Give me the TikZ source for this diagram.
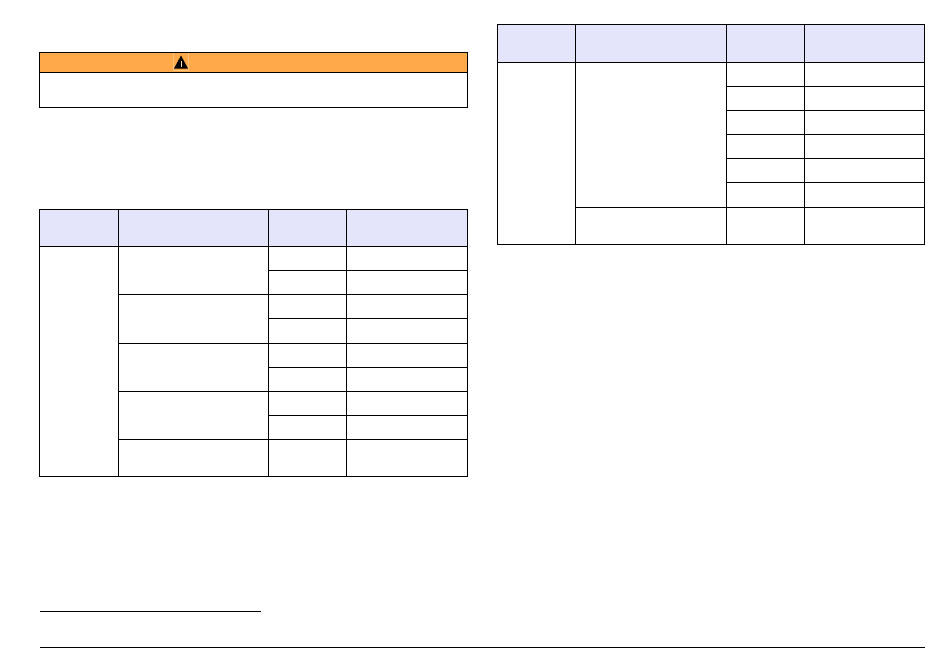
\documentclass[tikz,border=0pt]{standalone}
\definecolor{warnorange}{RGB}{255, 169, 74}
\definecolor{headblue}{RGB}{228, 228, 251}
\begin{document}
\begin{tikzpicture}[
                x=1pt, y=-1pt,
                line width=1pt, % line style
                rule/.style = {draw=black, line width=1pt},
                headcell/.style = {fill=headblue, draw=none},
                ]
                \useasboundingbox (0,0) rectangle (950,657);

                % warning box
                \fill[warnorange] (39.5,52.3) rectangle (467.5,72);
                \fill[white!30!warnorange] (173,53) rectangle (189,71);
                \fill[warnorange] (173.6,53) rectangle (188.4,70);
                \fill[black] (181,55.5) -- (188,68.5) -- (174,68.5) -- cycle;
                \fill[white!60!warnorange] (180.5,60.5) rectangle (181.5,64.5);
                \fill[white!60!warnorange] (180.5,65.4) rectangle (181.5,66.6);
                \draw[rule] (39.5,52.3) rectangle (467.5,107.3);
                \draw[rule] (39.5,72) -- (467.5,72);

                % left table
                \fill[headcell] (39.5,209.3) rectangle (467.5,246.3);
                \draw[rule] (39.5,209.3) rectangle (467.5,476.3);
                \draw[rule] (39.5,246.3) -- (467.5,246.3);
                \foreach \x in {118.5, 268.5, 346.5}
                    \draw[rule] (\x,209.3) -- (\x,476.3);
                \foreach \y in {294.3, 343.3, 391.3, 439.3}
                    \draw[rule] (118.5,\y) -- (467.5,\y);
                \foreach \y in {270.3, 318.7, 367.3, 415.3}
                    \draw[rule] (268.5,\y) -- (467.5,\y);

                % right table
                \fill[headcell] (497.5,24.3) rectangle (924.5,62.3);
                \draw[rule] (497.5,24.3) rectangle (924.5,244.3);
                \draw[rule] (497.5,62.3) -- (924.5,62.3);
                \foreach \x in {575.5, 726.5, 804.5}
                    \draw[rule] (\x,24.3) -- (\x,244.3);
                \draw[rule] (575.5,207.3) -- (924.5,207.3);
                \foreach \y in {86.3, 110.3, 134.3, 158.3, 182.3}
                    \draw[rule] (726.5,\y) -- (924.5,\y);

                % footnote and page rules
                \draw[rule] (40,611.3) -- (261,611.3);
                \draw[rule] (40,647.3) -- (925,647.3);
            \end{tikzpicture}
\end{document}
